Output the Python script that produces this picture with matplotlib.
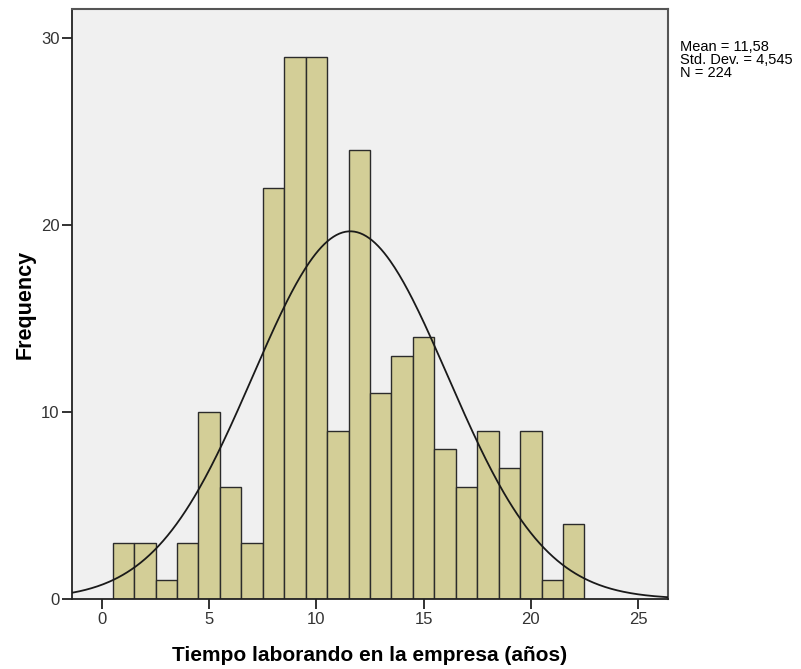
import numpy as np
import matplotlib
matplotlib.use("Agg")
import matplotlib.pyplot as plt

plt.rcParams["font.family"] = ["Liberation Sans", "DejaVu Sans"]

bin_centers = [1, 2, 3, 4, 5, 6, 7, 8, 9, 10, 11, 12, 13, 14, 15, 16, 17, 18, 19, 20, 21, 22]
counts = [3, 3, 1, 3, 10, 6, 3, 22, 29, 29, 9, 24, 11, 13, 14, 8, 6, 9, 7, 9, 1, 4]
mean = 11.58
std = 4.545
n = 224
x_ticks = [0, 5, 10, 15, 20, 25]
y_ticks = [0, 10, 20, 30]

fig = plt.figure(figsize=(8.01, 6.69), dpi=100)
ax = fig.add_axes([72 / 801, 1 - 599 / 669, (668 - 72) / 801, (599 - 9) / 669])
ax.set_facecolor("#f0f0f0")

ax.bar(bin_centers, counts, width=1.0, color="#d3ce97", edgecolor="#2b2b2b", linewidth=1.0, zorder=2)

# normal curve scaled to the histogram (bin width 1)
xs = np.linspace(-1.4, 26.4, 400)
pdf = n * 1.0 / (std * np.sqrt(2 * np.pi)) * np.exp(-0.5 * ((xs - mean) / std) ** 2)
ax.plot(xs, pdf, color="#1a1a1a", linewidth=1.3, zorder=3)

ax.set_xlim(-1.4, 26.4)
ax.set_ylim(0, 31.55)
ax.set_xticks(x_ticks)
ax.set_yticks(y_ticks)
ax.tick_params(direction="out", length=7, width=1.3, colors="#222222", labelsize=12,
               labelcolor="#333333", pad=2)
for side in ["left", "bottom"]:
    ax.spines[side].set_color("#222222")
    ax.spines[side].set_linewidth(1.3)
for side in ["top", "right"]:
    ax.spines[side].set_color("#555555")
    ax.spines[side].set_linewidth(1.5)

ax.set_xlabel("Tiempo laborando en la empresa (años)", fontsize=15, fontweight="bold", labelpad=14)
ax.set_ylabel("Frequency", fontsize=15.5, fontweight="bold", labelpad=4)

fig.text(680 / 801, 1 - 40 / 669, "Mean = %s\nStd. Dev. = %s\nN = %d" % ("11,58", "4,545", n),
         fontsize=10.5, va="top", ha="left", linespacing=0.9)

fig.savefig("out.png", dpi=100)
